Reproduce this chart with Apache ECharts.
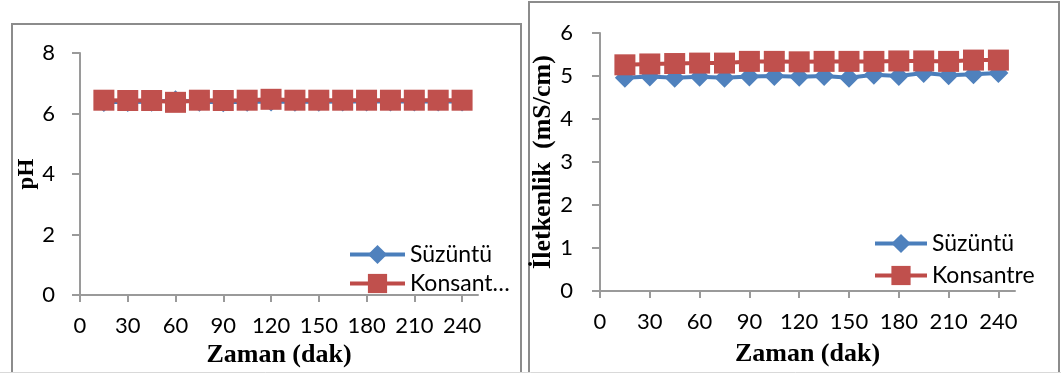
<!DOCTYPE html>
<html>
<head>
<meta charset="utf-8">
<script src="https://cdn.jsdelivr.net/npm/echarts@6/dist/echarts.min.js"></script>
<style>
html,body{margin:0;padding:0;background:#fff;}
#c{width:1061px;height:373px;}
</style>
</head>
<body>
<div id="c"></div>
<script>
// ---- data ----
var times = [15, 30, 45, 60, 75, 90, 105, 120, 135, 150, 165, 180, 195, 210, 225, 240];
var xTickLabels = [0, 30, 60, 90, 120, 150, 180, 210, 240];
var phSuzuntu =   [6.38, 6.38, 6.39, 6.44, 6.39, 6.37, 6.39, 6.40, 6.39, 6.39, 6.40, 6.40, 6.40, 6.40, 6.40, 6.40];
var phKonsantre = [6.44, 6.43, 6.43, 6.37, 6.44, 6.43, 6.44, 6.47, 6.44, 6.44, 6.44, 6.44, 6.44, 6.44, 6.44, 6.44];
var ecSuzuntu =   [4.96, 4.99, 4.96, 4.98, 4.96, 4.99, 5.00, 4.98, 5.00, 4.96, 5.03, 5.00, 5.07, 5.02, 5.04, 5.07];
var ecKonsantre = [5.26, 5.28, 5.29, 5.30, 5.30, 5.34, 5.34, 5.33, 5.34, 5.34, 5.34, 5.35, 5.35, 5.34, 5.37, 5.37];
var seriesNames = ['Süzüntü', 'Konsantre'];

function pairs(xs, ys){ return xs.map(function(x,i){ return [x, ys[i]]; }); }

var BLUE = '#4F81BD', BLUE_L = '#4A7EBB', RED = '#C0504D', RED_L = '#BE4B48';
var AX = '#9a9a9a';
var tickFont = {fontFamily:'Lato', fontSize:22, color:'#000', lineHeight:22};
var titleFont = {fontFamily:'Liberation Serif', fontWeight:'bold', fontSize:26, color:'#000'};

function xAxis(gridIndex, nameGap){
  return {
    type:'value', gridIndex:gridIndex, min:0, max:250, interval:30,
    name:'Zaman (dak)', nameLocation:'middle', nameGap:nameGap, nameTextStyle:titleFont,
    axisLine:{lineStyle:{color:AX, width:2}},
    axisTick:{length:7, lineStyle:{color:AX, width:2}, customValues:xTickLabels},
    axisLabel:Object.assign({margin:20, customValues:xTickLabels}, tickFont),
    splitLine:{show:false}
  };
}
function yAxis(gridIndex, max, interval, name, nameGap, nameFont, margin){
  return {
    type:'value', gridIndex:gridIndex, min:0, max:max, interval:interval,
    name:name, nameLocation:'middle', nameGap:nameGap, nameTextStyle:nameFont,
    axisLine:{show:true, lineStyle:{color:AX, width:2}},
    axisTick:{show:true, length:8, lineStyle:{color:AX, width:2}},
    axisLabel:Object.assign({margin:margin}, tickFont),
    splitLine:{show:false}
  };
}
function lineSeries(name, idx, data, sym, fill, stroke){
  return {
    name:name, type:'line', xAxisIndex:idx, yAxisIndex:idx, data:data,
    symbol:sym, symbolSize:sym==='rect'?21:20, showAllSymbol:true,
    lineStyle:{color:stroke, width:4},
    itemStyle:{color:fill, borderColor:fill, borderWidth:0},
    emphasis:{disabled:true}, animation:false, z: sym==='rect'?3:2
  };
}

var chart = echarts.init(document.getElementById('c'), null, {renderer:'canvas'});
chart.setOption({
  animation:false,
  color:[BLUE, RED],
  grid:[
    {left:80, top:53, right:1061-478, bottom:373-298, containLabel:false},
    {left:600, top:33, right:1061-1015, bottom:373-291, containLabel:false}
  ],
  xAxis:[ xAxis(0, 43), xAxis(1, 50) ],
  yAxis:[
    yAxis(0, 8, 2, 'pH', 35, Object.assign({}, titleFont, {fontSize:23}), 25),
    yAxis(1, 6, 1, 'İletkenlik  (mS/cm)', 40, titleFont, 27)
  ],
  legend:[
    {
      data:seriesNames, orient:'vertical', left:343, top:238, itemWidth:55, itemHeight:24, itemGap:6,
      textStyle:{fontFamily:'Lato', fontSize:23, color:'#000'},
      lineStyle:{width:4},
      formatter:function(n){ return n==='Konsantre' ? 'Konsant…' : n; },
      selectedMode:false
    },
    {
      data:seriesNames, orient:'vertical', left:868, top:227, itemWidth:52, itemHeight:24, itemGap:9,
      textStyle:{fontFamily:'Lato', fontSize:23, color:'#000'},
      lineStyle:{width:4},
      selectedMode:false
    }
  ],
  series:[
    lineSeries('Süzüntü', 0, pairs(times, phSuzuntu), 'diamond', BLUE, BLUE_L),
    lineSeries('Konsantre', 0, pairs(times, phKonsantre), 'rect', RED, RED_L),
    lineSeries('Süzüntü', 1, pairs(times, ecSuzuntu), 'diamond', BLUE, BLUE_L),
    lineSeries('Konsantre', 1, pairs(times, ecKonsantre), 'rect', RED, RED_L)
  ],
  graphic:[
    {type:'rect', shape:{x:12, y:24, width:509, height:360}, style:{fill:'none', stroke:'#8c8c8c', lineWidth:2}, silent:true, z:-1},
    {type:'rect', shape:{x:529, y:2, width:530, height:380}, style:{fill:'none', stroke:'#8c8c8c', lineWidth:2}, silent:true, z:-1},
    {type:'line', shape:{x1:0, y1:372.5, x2:1061, y2:372.5}, style:{stroke:'#d9d9d9', lineWidth:1}, silent:true, z:-1}
  ]
});
</script>
</body>
</html>
